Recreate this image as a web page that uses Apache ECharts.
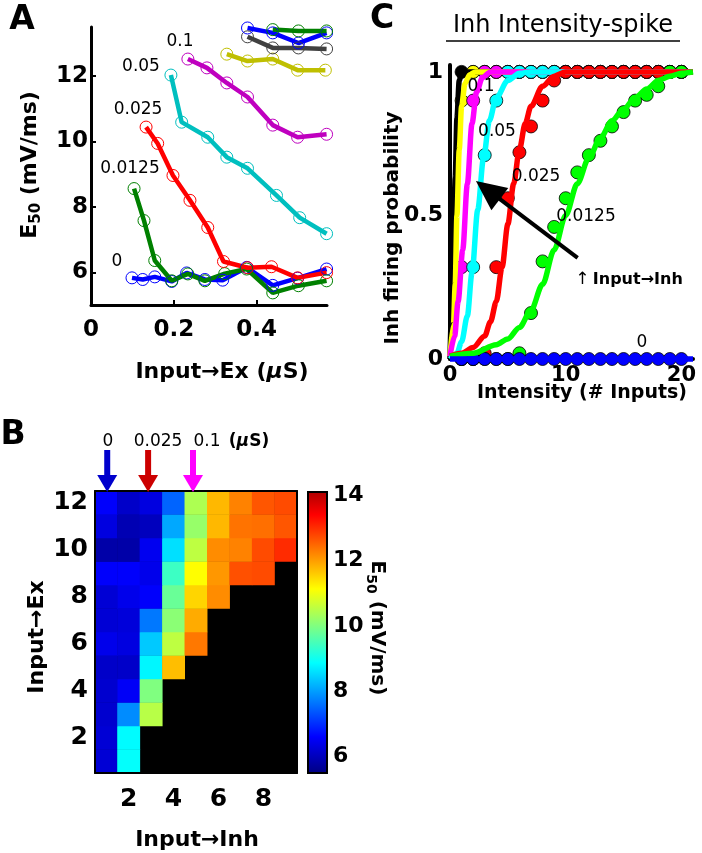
<!DOCTYPE html>
<html><head><meta charset="utf-8">
<script src="https://cdn.jsdelivr.net/npm/echarts@6/dist/echarts.min.js"></script>
<style>html,body{margin:0;padding:0;background:#fff}#c{width:702px;height:853px}</style>
</head><body><div id="c"></div>
<script>
// ---------- Panel A : E50 vs Input->Ex, one curve per Input->Inh ----------
const aX_0 = [0.099, 0.125, 0.154, 0.195, 0.231, 0.275, 0.318, 0.376, 0.439, 0.499, 0.569];
const aY_0 = [5.83, 5.78, 5.86, 5.72, 5.98, 5.78, 5.76, 6.15, 5.60, 5.82, 6.10];
const aX_1 = [0.104, 0.128, 0.154, 0.195, 0.234, 0.275, 0.323, 0.376, 0.439, 0.501, 0.569];
const aY_1 = [8.56, 7.58, 6.36, 5.74, 5.95, 5.74, 5.96, 6.10, 5.37, 5.59, 5.74];
const aX_2 = [0.133, 0.161, 0.198, 0.239, 0.282, 0.320, 0.378, 0.436, 0.499, 0.569];
const aY_2 = [10.44, 9.94, 8.96, 8.20, 7.37, 6.33, 6.14, 6.17, 5.83, 5.99];
const aX_3 = [0.193, 0.219, 0.282, 0.328, 0.378, 0.448, 0.504, 0.569];
const aY_3 = [12.03, 10.59, 10.13, 9.52, 9.18, 8.35, 7.67, 7.18];
const aX_4 = [0.234, 0.280, 0.328, 0.378, 0.439, 0.499, 0.569];
const aY_4 = [12.52, 12.25, 11.79, 11.36, 10.50, 10.13, 10.22];
const aX_5 = [0.328, 0.378, 0.439, 0.499, 0.566];
const aY_5 = [12.67, 12.46, 12.52, 12.18, 12.18];
const aX_6 = [0.378, 0.439, 0.501, 0.569];
const aY_6 = [13.20, 12.86, 12.86, 12.83];
const aX_7 = [0.378, 0.439, 0.501, 0.569];
const aY_7 = [13.47, 13.32, 13.01, 13.32];
const aX_8 = [0.439, 0.501, 0.569];
const aY_8 = [13.42, 13.38, 13.38];
const aColors = ['#0000ff', '#008000', '#ff0000', '#00bfbf', '#bf00bf', '#bfbf00', '#404040', '#0000ff', '#008000'];
const aXTicks = [0, 0.2, 0.4];
const aYTicks = [6, 8, 10, 12];
const aSeriesLabels = ['0', '0.0125', '0.025', '0.05', '0.1'];

// ---------- Panel B : heat map of E50 (rows Ex = 1..12, cols Inh = 1..9) ----------
const inhLabels = ['1','2','3','4','5','6','7','8','9'];
const exLabels = ['1','2','3','4','5','6','7','8','9','10','11','12'];
const e50Ex1  = [6.25, 8.90, null, null, null, null, null, null, null];
const e50Ex2  = [6.25, 8.85, null, null, null, null, null, null, null];
const e50Ex3  = [6.20, 7.86, 10.5, null, null, null, null, null, null];
const e50Ex4  = [6.20, 6.55, 10.0, null, null, null, null, null, null];
const e50Ex5  = [6.15, 6.15, 8.80, 11.7, null, null, null, null, null];
const e50Ex6  = [6.45, 6.35, 8.40, 10.55, 12.32, null, null, null, null];
const e50Ex7  = [6.25, 6.30, 7.68, 10.1, 11.87, null, null, null, null];
const e50Ex8  = [6.25, 6.45, 6.60, 9.80, 11.5, 12.14, null, null, null];
const e50Ex9  = [6.60, 6.60, 6.45, 9.40, 11.13, 12.05, 12.67, 12.72, null];
const e50Ex10 = [5.85, 5.85, 6.49, 8.60, 10.55, 12.14, 12.23, 12.72, 13.0];
const e50Ex11 = [6.35, 5.95, 6.05, 8.10, 10.2, 11.75, 12.36, 12.4, 12.62];
const e50Ex12 = [6.60, 6.15, 6.35, 7.50, 10.4, 11.75, 12.23, 12.62, 12.72];
const e50Rows = [e50Ex1, e50Ex2, e50Ex3, e50Ex4, e50Ex5, e50Ex6, e50Ex7, e50Ex8, e50Ex9, e50Ex10, e50Ex11, e50Ex12];
const cbMin = 5.5, cbMax = 14.1, mapMax = 14.5;
const cbTicks = [6, 8, 10, 12, 14];
const bArrowLabels = ['0', '0.025', '0.1'];

// ---------- Panel C : Inh firing probability vs intensity ----------
const cIntensity = [1,2,3,4,5,6,7,8,9,10,11,12,13,14,15,16,17,18,19,20];
const cP_black   = [1,1,1,1,1,1,1,1,1,1,1,1,1,1,1,1,1,1,1,1];
const cP_yellow  = [0.90,1,1,1,1,1,1,1,1,1,1,1,1,1,1,1,1,1,1,1];
const cP_magenta = [0.32,0.90,1,1,1,1,1,1,1,1,1,1,1,1,1,1,1,1,1,1];
const cP_cyan    = [0,0.32,0.71,0.90,1,1,1,1,1,1,1,1,1,1,1,1,1,1,1,1];
const cP_red     = [0,0,0.02,0.32,0.56,0.72,0.81,0.90,0.97,1,1,1,1,1,1,1,1,1,1,1];
const cP_green   = [0,0,0,0,0,0.02,0.16,0.34,0.46,0.56,0.65,0.71,0.76,0.81,0.86,0.90,0.92,0.95,1,1];
const cP_blue    = [0,0,0,0,0,0,0,0,0,0,0,0,0,0,0,0,0,0,0,0];
const cFit_black   = [[0,0],[0.25,0.3],[0.45,0.63],[0.6,0.84],[0.8,0.97],[1.0,1.0],[21,1]];
const cFit_yellow  = [[0,0.01],[0.3,0.12],[0.45,0.26],[0.6,0.5],[0.8,0.73],[1.0,0.88],[1.3,0.96],[1.7,0.99],[2.2,1],[21,1]];
const cFit_magenta = [[0,0.01],[0.4,0.08],[0.7,0.2],[1.1,0.38],[1.5,0.61],[1.9,0.82],[2.3,0.93],[2.8,0.98],[3.5,1],[21,1]];
const cFit_cyan    = [[0,0],[0.6,0.02],[1.0,0.06],[1.5,0.15],[1.9,0.3],[2.4,0.52],[2.9,0.7],[3.4,0.83],[4,0.91],[5,0.97],[6,0.995],[7,1],[21,1]];
const cFit_red     = [[0,0.01],[1,0.02],[2,0.04],[3,0.08],[3.5,0.13],[4,0.2],[4.5,0.32],[5,0.47],[5.5,0.61],[6,0.73],[6.5,0.82],[7,0.88],[8,0.95],[9,0.985],[10,1],[21,1]];
const cFit_green   = [[0,0.01],[2,0.02],[4,0.05],[5,0.07],[6,0.11],[7,0.17],[8,0.26],[9,0.38],[10,0.5],[11,0.61],[12,0.7],[13,0.77],[14,0.83],[15,0.87],[16,0.91],[17,0.94],[18,0.97],[19,0.985],[20,0.995],[21,1]];
const cFit_blue    = [[0,0],[21,0]];
const cXTicks = [0, 10, 20];
const cYTicks = [0, 0.5, 1];
const cSeriesLabels = ['0.1', '0.05', '0.025', '0.0125', '0'];

// ---------------------------------------------------------------
const FONT = 'DejaVu Sans';
const chart = echarts.init(document.getElementById('c'), null, {renderer: 'canvas'});

const aXs = [aX_0,aX_1,aX_2,aX_3,aX_4,aX_5,aX_6,aX_7,aX_8];
const aYs = [aY_0,aY_1,aY_2,aY_3,aY_4,aY_5,aY_6,aY_7,aY_8];
const series = [];
aXs.forEach((xs, k) => {
  const col = aColors[k];
  series.push({
    type: 'line', xAxisIndex: 0, yAxisIndex: 0, clip: false, silent: true,
    data: xs.map((x, i) => [x, aYs[k][i]]),
    symbol: 'circle', symbolSize: 12, showSymbol: true,
    lineStyle: {color: col, width: 4.5},
    itemStyle: {color: 'rgba(0,0,0,0)', borderColor: col, borderWidth: 1}
  });
});

const cGroups = [
  ['#000000', cP_black, cFit_black],
  ['#ffff00', cP_yellow, cFit_yellow],
  ['#ff00ff', cP_magenta, cFit_magenta],
  ['#00ffff', cP_cyan, cFit_cyan],
  ['#ff0000', cP_red, cFit_red],
  ['#00ff00', cP_green, cFit_green],
  ['#0000ff', cP_blue, cFit_blue]
];
cGroups.forEach(([col, probs, fit]) => {
  series.push({
    type: 'line', xAxisIndex: 1, yAxisIndex: 1, clip: false, silent: true,
    data: fit, smooth: 0.3, smoothMonotone: 'x', showSymbol: false, symbol: 'none',
    lineStyle: {color: col, width: 5.5}
  });
  series.push({
    type: 'scatter', xAxisIndex: 1, yAxisIndex: 1, clip: false, silent: true,
    data: cIntensity.map((x, i) => [x, probs[i]]),
    symbolSize: 13,
    itemStyle: {color: col, borderColor: '#000', borderWidth: 0.8, opacity: 1}
  });
});

const heatData = [];
e50Rows.forEach((row, r) => row.forEach((v, c) => { if (v !== null) heatData.push([c, r, v]); }));
const heatIndex = series.length;
series.push({
  type: 'heatmap', xAxisIndex: 2, yAxisIndex: 2, data: heatData, silent: true,
  itemStyle: {borderWidth: 0}, emphasis: {disabled: true}
});

const jet = ['#000080','#0000ff','#0080ff','#00ffff','#80ff80','#ffff00','#ff8000','#ff0000','#800000'];
const cbStops = [];
for (let k = 0; k < jet.length; k++) {
  const v = cbMin + k * (mapMax - cbMin) / (jet.length - 1);
  if (v <= cbMax) cbStops.push({offset: (v - cbMin) / (cbMax - cbMin), color: jet[k]});
}
{
  const k = (cbMax - cbMin) / ((mapMax - cbMin) / (jet.length - 1));
  const f = k - Math.floor(k);
  const r = Math.round(255 - f * 127);
  cbStops.push({offset: 1, color: 'rgb(' + r + ',0,0)'});
}
series.push({
  type: 'custom', xAxisIndex: 4, yAxisIndex: 4, silent: true, clip: false,
  data: [[0, cbMax]],
  renderItem: function (params, api) {
    const top = api.coord([0, cbMax]);
    const bot = api.coord([0, cbMin]);
    const w = api.size([1, 0])[0];
    return {
      type: 'rect',
      shape: {x: top[0] - w / 2, y: top[1], width: w, height: bot[1] - top[1]},
      style: {fill: new echarts.graphic.LinearGradient(0, 1, 0, 0, cbStops), stroke: '#000', lineWidth: 2}
    };
  }
});

const lab = (size, extra) => Object.assign({fontFamily: FONT, fontWeight: 'bold', fontSize: size, color: '#000'}, extra || {});
const fmt = v => (v === 0 ? '0' : String(+v.toFixed(2)));

const option = {
  animation: false,
  backgroundColor: '#fff',
  grid: [
    {left: 91, top: 27, width: 236, height: 278, outerBoundsMode: 'none'},
    {left: 450, top: 65, width: 243, height: 294, outerBoundsMode: 'none'},
    {left: 95, top: 491, width: 202, height: 282, show: true, backgroundColor: '#000', borderWidth: 0, outerBoundsMode: 'none'},
    {left: 308, top: 492, width: 19, height: 281, outerBoundsMode: 'none'}
  ],
  xAxis: [
    {gridIndex: 0, type: 'value', min: 0, max: 0.57,
      axisLine: {show: true, onZero: false, lineStyle: {color: '#000', width: 3}},
      axisTick: {show: true, inside: true, length: 5, customValues: [0.2, 0.4], lineStyle: {color: '#000', width: 2}},
      axisLabel: lab(23, {customValues: aXTicks, formatter: fmt, margin: 14}),
      splitLine: {show: false}},
    {gridIndex: 1, type: 'value', min: 0, max: 21,
      axisLine: {show: true, onZero: false, lineStyle: {color: '#000', width: 4}},
      axisTick: {show: false},
      axisLabel: lab(21, {customValues: cXTicks, formatter: fmt, margin: 6}),
      splitLine: {show: false}},
    {gridIndex: 2, type: 'category', data: inhLabels, z: 3,
      axisLine: {show: true, lineStyle: {color: '#000', width: 2}}, axisTick: {show: false},
      axisLabel: lab(25, {interval: (i) => (i + 1) % 2 === 0, margin: 14}), splitLine: {show: false}},
    {gridIndex: 2, type: 'category', data: inhLabels, position: 'top', z: 3,
      axisLine: {show: true, lineStyle: {color: '#000', width: 2}}, axisTick: {show: false},
      axisLabel: {show: false}, splitLine: {show: false}},
    {gridIndex: 3, type: 'category', data: [''], show: false}
  ],
  yAxis: [
    {gridIndex: 0, type: 'value', min: 5, max: 13.5,
      axisLine: {show: true, onZero: false, lineStyle: {color: '#000', width: 3}},
      axisTick: {show: true, inside: true, length: 5, customValues: aYTicks, lineStyle: {color: '#000', width: 2}},
      axisLabel: lab(23, {customValues: aYTicks, formatter: fmt, margin: 3}),
      splitLine: {show: false}},
    {gridIndex: 1, type: 'value', min: 0, max: 1.024,
      axisLine: {show: true, onZero: false, lineStyle: {color: '#000', width: 4}},
      axisTick: {show: false},
      axisLabel: lab(22, {customValues: cYTicks, formatter: fmt, margin: 7}),
      splitLine: {show: false}},
    {gridIndex: 2, type: 'category', data: exLabels, z: 3,
      axisLine: {show: true, lineStyle: {color: '#000', width: 2}}, axisTick: {show: false},
      axisLabel: lab(25, {interval: (i) => (i + 1) % 2 === 0, margin: 7}), splitLine: {show: false}},
    {gridIndex: 2, type: 'category', data: exLabels, position: 'right', z: 3,
      axisLine: {show: true, lineStyle: {color: '#000', width: 2}}, axisTick: {show: false},
      axisLabel: {show: false}, splitLine: {show: false}},
    {gridIndex: 3, type: 'value', min: cbMin, max: cbMax, position: 'right',
      axisLine: {show: false},
      axisTick: {show: true, inside: true, length: 4, customValues: cbTicks, lineStyle: {color: '#000', width: 1.5}},
      axisLabel: lab(22, {customValues: cbTicks, formatter: fmt, margin: 6}),
      splitLine: {show: false}}
  ],
  visualMap: {show: false, type: 'continuous', min: cbMin, max: mapMax, dimension: 2, seriesIndex: heatIndex, inRange: {color: jet}},
  series: series
};
chart.setOption(option);

// ---------- annotations ----------
function txt(x, y, text, size, weight, extra) {
  return Object.assign({
    type: 'text', x: x, y: y, silent: true, z: 100,
    style: {text: text, fontFamily: FONT, fontSize: size, fontWeight: weight || 'normal', fill: '#000', align: 'center', verticalAlign: 'middle'}
  }, extra || {});
}
function richTxt(x, y, text, rich, rotation) {
  return {type: 'text', x: x, y: y, rotation: rotation || 0, silent: true, z: 100,
    style: {text: text, rich: rich, align: 'center', verticalAlign: 'middle', fill: '#000'}};
}
const tokB = (s) => ({fontFamily: FONT, fontSize: s, fontWeight: 'bold', fill: '#000', lineHeight: s + 6, verticalAlign: 'middle'});
const tokSub = (s) => ({fontFamily: FONT, fontSize: s, fontWeight: 'bold', fill: '#000', lineHeight: s, verticalAlign: 'bottom'});
const tokI = (s) => ({fontFamily: FONT, fontSize: s, fontWeight: 'bold', fontStyle: 'italic', fill: '#000', lineHeight: s + 6, verticalAlign: 'middle'});
const tokN = (s) => ({fontFamily: FONT, fontSize: s, fontWeight: 'normal', fill: '#000', lineHeight: s + 6, verticalAlign: 'middle'});

const g = [];
g.push(txt(22, 20, 'A', 33, 'bold'));
g.push(txt(13, 435, 'B', 33, 'bold'));
g.push(txt(382, 19, 'C', 33, 'bold'));

g.push(richTxt(30, 165, '{b|E}{s|50}{b| (mV/ms)}', {b: tokB(22), s: tokSub(15)}, Math.PI / 2));
g.push(richTxt(222, 372, '{b|Input→Ex (}{i|μ}{b|S)}', {b: tokB(22), i: tokI(22)}));
const aLabelPos = [[117, 262], [130, 169], [138, 110], [141, 67], [180, 42]];
aSeriesLabels.forEach((t, i) => g.push(txt(aLabelPos[i][0], aLabelPos[i][1], t, 17)));

g.push(txt(563, 26, 'Inh Intensity-spike', 24));
g.push({type: 'line', silent: true, z: 100, shape: {x1: 446, y1: 41, x2: 680, y2: 41}, style: {stroke: '#000', lineWidth: 1.5}});
g.push(txt(393, 228, 'Inh firing probability', 20, 'bold', {rotation: Math.PI / 2}));
g.push(txt(582, 393, 'Intensity (# Inputs)', 19, 'bold'));
const cLabelPos = [[481, 87], [497, 132], [536, 177], [586, 217], [642, 343]];
cSeriesLabels.forEach((t, i) => g.push(txt(cLabelPos[i][0], cLabelPos[i][1], t, 17)));
g.push(richTxt(629, 280, '{n|↑} {b|Input→Inh}', {n: tokN(17), b: tokB(16)}));

{
  const tail = chart.convertToPixel({xAxisIndex: 1, yAxisIndex: 1}, [11.03, 0.352]);
  const tip = chart.convertToPixel({xAxisIndex: 1, yAxisIndex: 1}, [2.24, 0.62]);
  const dx = tip[0] - tail[0], dy = tip[1] - tail[1];
  const L = Math.sqrt(dx * dx + dy * dy), ux = dx / L, uy = dy / L;
  const hl = 30, hw = 14;
  const bx = tip[0] - ux * hl, by = tip[1] - uy * hl;
  g.push({type: 'line', silent: true, z: 90, shape: {x1: tail[0], y1: tail[1], x2: bx + ux * 2, y2: by + uy * 2}, style: {stroke: '#000', lineWidth: 4}});
  g.push({type: 'polygon', silent: true, z: 90, shape: {points: [[tip[0], tip[1]], [bx - uy * hw, by + ux * hw], [bx + uy * hw, by - ux * hw]]}, style: {fill: '#000'}});
}

g.push(txt(37, 637, 'Input→Ex', 22, 'bold', {rotation: Math.PI / 2}));
g.push(txt(197, 840, 'Input→Inh', 22, 'bold'));
g.push(richTxt(377, 628, '{b|E}{s|50}{b| (mV/ms)}', {b: tokB(20), s: tokSub(14)}, -Math.PI / 2));

const bArrowCols = ['1', '3', '5'];
const bArrowColors = ['#0000cc', '#cc0000', '#ff00ff'];
const bLabelX = [108, 158, 207];
bArrowCols.forEach((c, i) => {
  const p = chart.convertToPixel({xAxisIndex: 2, yAxisIndex: 2}, [c, '12']);
  const x = p[0] + (i === 0 ? 1 : -3);
  g.push({type: 'line', silent: true, z: 90, shape: {x1: x, y1: 450, x2: x, y2: 477}, style: {stroke: bArrowColors[i], lineWidth: 6}});
  g.push({type: 'polygon', silent: true, z: 90, shape: {points: [[x - 10, 475], [x + 10, 475], [x, 492]]}, style: {fill: bArrowColors[i]}});
  g.push(txt(bLabelX[i], 442, bArrowLabels[i], 17));
});
g.push(richTxt(249, 442, '{b|(}{i|μ}{b|S)}', {b: tokB(17), i: tokI(17)}));

chart.setOption({graphic: g});
</script>
</body></html>
